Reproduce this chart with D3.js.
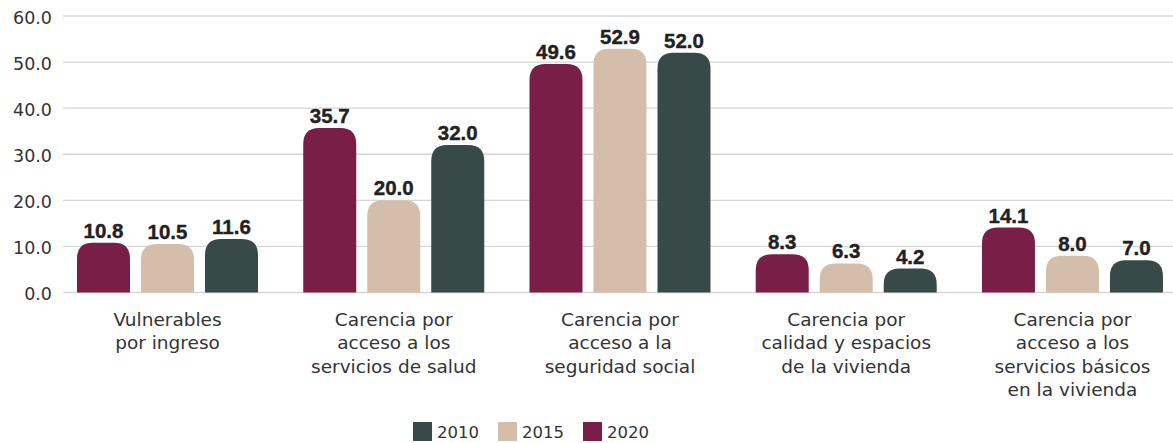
<!DOCTYPE html>
<html>
<head>
<meta charset="utf-8">
<script src="https://cdn.jsdelivr.net/npm/d3@7"></script>
<style>
  html, body { margin: 0; padding: 0; background: #fff; }
  svg { display: block; }
</style>
</head>
<body>
<svg id="chart" width="1173" height="443"></svg>
<script>
const categories = [
  ["Vulnerables", "por ingreso"],
  ["Carencia por", "acceso a los", "servicios de salud"],
  ["Carencia por", "acceso a la", "seguridad social"],
  ["Carencia por", "calidad y espacios", "de la vivienda"],
  ["Carencia por", "acceso a los", "servicios básicos", "en la vivienda"]
];
const seriesNames = ["2020", "2015", "2010"];
const values2020 = [10.8, 35.7, 49.6, 8.3, 14.1];
const values2015 = [10.5, 20.0, 52.9, 6.3, 8.0];
const values2010 = [11.6, 32.0, 52.0, 4.2, 7.0];
const yTicks = [0, 10, 20, 30, 40, 50, 60];
const legendOrder = ["2010", "2015", "2020"];

const colors = { "2020": "#781e47", "2015": "#d5bea9", "2010": "#374a47" };
const seriesValues = { "2020": values2020, "2015": values2015, "2010": values2010 };

const svg = d3.select("#chart");
const catKeys = categories.map((c, i) => "c" + i);

const x0 = d3.scaleBand().domain(catKeys).range([54.4, 1185.6]).padding(0);
const x1 = d3.scaleBand().domain(seriesNames).range([22.6, 203.6]).paddingInner(0.172).paddingOuter(0);
const y = d3.scaleLinear().domain([0, 60]).range([292.5, 16]);

// gridlines
svg.append("g").selectAll("line").data(yTicks).join("line")
  .attr("x1", 63).attr("x2", 1173)
  .attr("y1", d => y(d)).attr("y2", d => y(d))
  .attr("stroke", "#d6d6d6").attr("stroke-width", 1.3);

// y axis labels
const yAxis = d3.axisLeft(y).tickValues(yTicks).tickFormat(d3.format(".1f")).tickSize(0).tickPadding(0);
const yg = svg.append("g").attr("transform", "translate(52,0)").call(yAxis);
yg.select(".domain").remove();
yg.selectAll("text")
  .attr("font-family", "DejaVu Sans").attr("font-size", 17.5).attr("fill", "#333")
  .attr("dy", "0.42em");

function barPath(xl, w, yt, yb, r) {
  r = Math.min(r, w / 2, yb - yt);
  return `M${xl},${yb}V${yt + r}Q${xl},${yt} ${xl + r},${yt}H${xl + w - r}Q${xl + w},${yt} ${xl + w},${yt + r}V${yb}Z`;
}

const minH = 24;
const groups = svg.append("g").selectAll("g").data(catKeys).join("g")
  .attr("transform", d => `translate(${x0(d)},0)`);

groups.each(function(k, i) {
  const g = d3.select(this);
  seriesNames.forEach(s => {
    const v = seriesValues[s][i];
    const bx = x1(s), bw = x1.bandwidth();
    const yb = y(0);
    const yt = Math.min(y(v), yb - minH);
    g.append("path")
      .attr("d", barPath(bx, bw, yt, yb, 16))
      .attr("fill", colors[s]);
    g.append("text")
      .attr("x", bx + bw / 2).attr("y", yt - 5)
      .attr("text-anchor", "middle")
      .attr("font-family", "Liberation Sans, Arial, sans-serif")
      .attr("font-weight", "bold").attr("font-size", 20.5)
      .attr("fill", "#222")
      .attr("stroke", "#222").attr("stroke-width", 0.4)
      .text(d3.format(".1f")(v));
  });
  const t = g.append("text")
    .attr("x", x0.bandwidth() / 2).attr("y", 326)
    .attr("text-anchor", "middle")
    .attr("font-family", "DejaVu Sans").attr("font-size", 18.5).attr("fill", "#333");
  categories[i].forEach((line, j) => {
    t.append("tspan").attr("x", x0.bandwidth() / 2).attr("y", 326 + j * 23.3).text(line);
  });
});

// legend
const legend = svg.append("g").selectAll("g").data(legendOrder).join("g")
  .attr("transform", (d, i) => `translate(${413 + i * 85},422)`);
legend.append("rect").attr("width", 19).attr("height", 19).attr("fill", d => colors[d]);
legend.append("text").attr("x", 24).attr("y", 16)
  .attr("font-family", "DejaVu Sans").attr("font-size", 16.5).attr("fill", "#333")
  .text(d => d);
</script>
</body>
</html>
